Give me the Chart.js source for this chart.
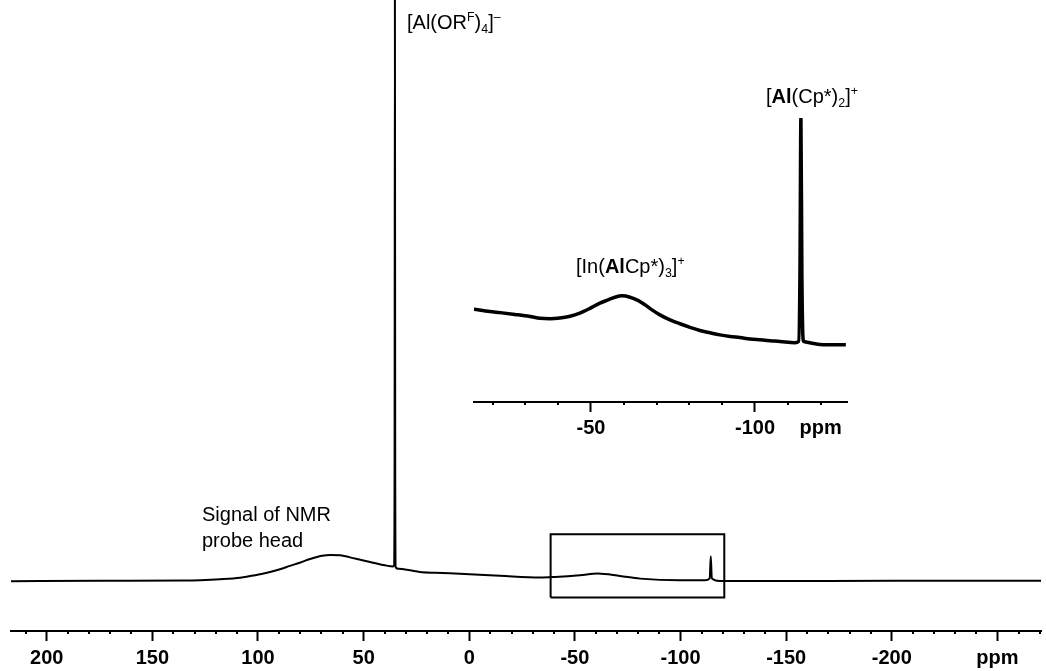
<!DOCTYPE html>
<html><head><meta charset="utf-8">
<script src="https://cdn.jsdelivr.net/npm/chart.js@4.4.1/dist/chart.umd.min.js"></script>
<style>
html,body{margin:0;padding:0;background:#fff;}
#wrap{position:relative;width:1046px;height:671px;overflow:hidden;background:#fff;}
#main{position:absolute;left:0;top:0;}
#inset{position:absolute;left:460px;top:100px;}
.lbl{position:absolute;font-family:"Liberation Sans",Arial,sans-serif;font-size:20px;line-height:24px;white-space:nowrap;color:#000;}
.lbl sup,.lbl sub{font-size:0.62em;line-height:0;position:relative;vertical-align:baseline;}
.lbl sup{top:-0.65em;}
.lbl sub{top:0.35em;}
.two{line-height:26px;}
</style></head>
<body><div id="wrap">
<canvas id="main" width="1046" height="671"></canvas>
<canvas id="inset" width="400" height="345"></canvas>
<div class="lbl" style="left:407px;top:10px">[Al(OR<sup>F</sup>)<sub>4</sub>]<sup>–</sup></div>
<div class="lbl" style="left:766px;top:84px">[<b>Al</b>(Cp*)<sub>2</sub>]<sup>+</sup></div>
<div class="lbl" style="left:576px;top:254px">[In(<b>Al</b>Cp*)<sub>3</sub>]<sup>+</sup></div>
<div class="lbl two" style="left:202px;top:501px">Signal of NMR<br>probe head</div>
</div>
<script>
// ---- main spectrum (ppm, relative intensity) ----
const mainPpm = [216.9, 175, 135, 127.4, 117.9, 108.5, 103.8, 99.1, 94.3, 89.6, 84.9, 80.2, 76.5, 73.0, 69.7, 65.9, 61.2, 54.1, 47.0, 39.9, 36.0, 35.6, 35.35, 35.2, 35.05, 34.8, 33.5, 28.1, 23.4, 16.2, 9.2, -14.5, -33.5, -40.6, -52.4, -60.9, -71.3, -80.8, -99.7, -111.5, -113.8, -114.3, -114.8, -118.6, -128, -200, -270.6];
const mainIntensity = [0, 0.09, 0.14, 0.2, 0.36, 0.62, 0.9, 1.22, 1.6, 2.08, 2.65, 3.2, 3.7, 4.08, 4.38, 4.53, 4.48, 3.91, 3.32, 2.75, 2.55, 2.7, 20, 100, 20, 2.4, 2.15, 1.89, 1.6, 1.46, 1.38, 0.95, 0.64, 0.74, 1.03, 1.33, 0.91, 0.46, 0.17, 0.17, 0.5, 4.3, 0.5, 0.05, 0.05, 0.08, 0.09];
// zoom box drawn on the main spectrum
const boxPpm = [-38.5, -38.5, -120.7, -120.7, -38.5];
const boxIntensity = [-2.8, 8.09, 8.09, -2.8, -2.8];
// ---- inset spectrum ----
const insetPpm = [-14.3, -19.2, -22.3, -26.8, -31.4, -34.5, -37.5, -40.5, -43.6, -46.6, -49.7, -52.7, -55.2, -57.3, -59.5, -61.9, -64.3, -66.5, -68.6, -71.0, -74.1, -77.1, -80.2, -83.2, -86.3, -89.3, -92.4, -95.4, -98.5, -101.5, -104.6, -107.6, -112.2, -113.3, -113.7, -114.0, -114.3, -114.7, -114.9, -119.8, -127.7];
const insetIntensity = [15.7, 14.7, 14.2, 13.4, 12.5, 11.7, 11.5, 11.8, 12.6, 14.0, 16.1, 18.4, 19.8, 21.0, 21.6, 21.0, 19.6, 17.6, 15.4, 13.2, 11.0, 9.3, 7.7, 6.3, 5.3, 4.4, 3.7, 3.2, 2.6, 2.2, 1.8, 1.5, 0.9, 1.5, 30, 100, 30, 2.0, 1.5, 0.2, 0.0];
// ---- axes ----
const mainRange = [-270.6, 216.9];
const mainMajorTicks = [200, 150, 100, 50, 0, -50, -100, -150, -200, -250];
const mainTickLabels = ['200', '150', '100', '50', '0', '-50', '-100', '-150', '-200', 'ppm'];
const mainMinorStep = 10;
const insetRange = [-128.05, -14.33];
const insetMajorTicks = [-50, -100];
const insetLabelTicks = [-50, -100, -120];
const insetTickLabels = ['-50', '-100', 'ppm'];
const insetMinorStep = 10;

function range(lo, hi, step){ const out=[]; for(let v=Math.ceil(lo/step)*step; v<=hi; v+=step) out.push(v); return out; }
function pts(xs, ys){ return xs.map((x,i)=>({x:x, y:ys[i]})); }

function minorTickPlugin(id, values, len){
  return { id, afterDraw(chart){
    const s = chart.scales.x, c = chart.ctx;
    c.save(); c.strokeStyle='#000'; c.lineWidth=2; c.beginPath();
    values.forEach(v=>{ const p = Math.round(s.getPixelForValue(v)); c.moveTo(p, s.top); c.lineTo(p, s.top+len); });
    c.stroke(); c.restore();
  }};
}

const tickFont = {family:'"Liberation Sans", Arial, sans-serif', size:20, weight:'bold'};

function makeX(rangeArr, allTicks, majors, labelVals, labels, axisH, pad){
  return {
    type:'linear', reverse:true, min:rangeArr[0], max:rangeArr[1], offset:false,
    afterBuildTicks(scale){ scale.ticks = allTicks.map(v=>({value:v})); },
    afterFit(scale){ scale.height = axisH; },
    border:{display:true, color:'#000', width:2},
    grid:{drawOnChartArea:false, drawTicks:true, tickLength:10, tickWidth:2,
      tickColor:(ctx)=> (ctx.tick && majors.includes(ctx.tick.value)) ? '#000' : 'rgba(0,0,0,0)'},
    ticks:{autoSkip:false, maxRotation:0, minRotation:0, padding:pad, color:'#000', font:tickFont,
      callback:(v)=>{ const i = labelVals.indexOf(v); return i>=0 ? labels[i] : ''; }}
  };
}

Chart.defaults.animation = false;

// main
const mainAll = range(mainRange[0], mainRange[1], mainMinorStep);
const mainMinor = mainAll.filter(v=>!mainMajorTicks.includes(v));
new Chart(document.getElementById('main'), {
  type:'line',
  data:{datasets:[
    {data:pts(mainPpm, mainIntensity), borderColor:'#000', borderWidth:2, pointRadius:0, cubicInterpolationMode:'monotone', fill:false},
    {data:pts(boxPpm, boxIntensity), borderColor:'#000', borderWidth:2, pointRadius:0, tension:0, fill:false}
  ]},
  options:{
    responsive:false, devicePixelRatio:1, animation:false,
    layout:{padding:{left:11, right:5, top:0, bottom:0}},
    plugins:{legend:{display:false}, tooltip:{enabled:false}},
    scales:{
      x: makeX(mainRange, mainAll, mainMajorTicks, mainMajorTicks, mainTickLabels, 40, 5),
      y: {display:false, min:-8.55, max:100}
    }
  },
  plugins:[minorTickPlugin('minorMain', mainMinor, 3)]
});

// inset
const insetAll = range(insetRange[0], insetRange[1], insetMinorStep);
const insetMinor = insetAll.filter(v=>!insetMajorTicks.includes(v));
new Chart(document.getElementById('inset'), {
  type:'line',
  data:{datasets:[
    {data:pts(insetPpm, insetIntensity), borderColor:'#000', borderWidth:3.5, pointRadius:0, cubicInterpolationMode:'monotone', fill:false}
  ]},
  options:{
    responsive:false, devicePixelRatio:1, animation:false,
    layout:{padding:{left:14, right:13, top:18, bottom:0}},
    plugins:{legend:{display:false}, tooltip:{enabled:false}},
    scales:{
      x: makeX(insetRange, insetAll, insetMajorTicks, insetLabelTicks, insetTickLabels, 43, 4),
      y: {display:false, min:-25.2, max:100}
    }
  },
  plugins:[minorTickPlugin('minorInset', insetMinor, 3)]
});
</script>
</body></html>
